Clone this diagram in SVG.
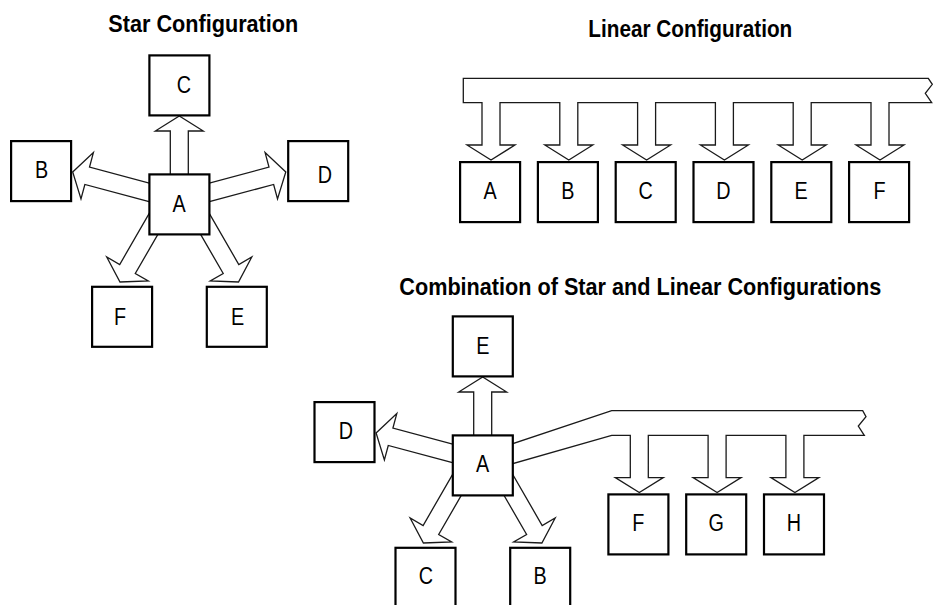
<svg xmlns="http://www.w3.org/2000/svg" width="937" height="605" viewBox="0 0 937 605">
<style>
.bg{fill:#fff}
.box{fill:#fff;stroke:#000;stroke-width:2.2}
.conn{fill:#fff;stroke:#1a1a1a;stroke-width:1.3;stroke-linejoin:miter}
.lbl{font-family:"Liberation Sans",Arial,sans-serif;font-size:23px;fill:#000;text-anchor:middle}
.ttl{font-family:"Liberation Sans",Arial,sans-serif;font-size:23.5px;font-weight:bold;fill:#000}
</style>
<rect class="bg" x="0" y="0" width="937" height="605"/>
<g id="titles">
<text class="ttl" x="108.3" y="31.7" textLength="190" lengthAdjust="spacingAndGlyphs">Star Configuration</text>
<text class="ttl" x="588.3" y="36.7" textLength="204" lengthAdjust="spacingAndGlyphs">Linear Configuration</text>
<text class="ttl" x="399.3" y="295" textLength="482" lengthAdjust="spacingAndGlyphs">Combination of Star and Linear Configurations</text>
</g>
<g id="connectors">
<!-- star -->
<polygon class="conn" points="188.3,190 188.3,131 203.3,131 179.3,116 155.3,131 170.3,131 170.3,190"/>
<polygon class="conn" points="171.62,189.09 89.52,167.09 93.40,152.60 72.7,171.9 80.98,198.96 84.86,184.47 166.96,206.47"/>
<polygon class="conn" points="186.88,189.09 268.98,167.09 265.10,152.60 285.8,171.9 277.52,198.96 273.64,184.47 191.54,206.47"/>
<polygon class="conn" points="162.21,190.9 119.71,264.51 106.72,257.01 120,282 148.28,281.01 135.29,273.51 177.79,199.9"/>
<polygon class="conn" points="196.29,190.9 238.79,264.51 251.78,257.01 238.5,282 210.22,281.01 223.21,273.51 180.71,199.9"/>
<!-- linear bus -->
<path class="conn" d="M463.3,78.3 H928.3 L932.3,84.3 L925.3,93.3 L931.7,102.7 H889 V145 H904 L880,160 L856,145 H871 V102.7 H811.2 V145 H826.2 L802.2,160 L778.2,145 H793.2 V102.7 H733.4 V145 H748.4 L724.4,160 L700.4,145 H715.4 V102.7 H655.6 V145 H670.6 L646.6,160 L622.6,145 H637.6 V102.7 H577.8 V145 H592.8 L568.8,160 L544.8,145 H559.8 V102.7 H500 V145 H515 L491,160 L467,145 H482 V102.7 H463.3 Z"/>
<!-- combination -->
<g transform="translate(303.4 261)">
<polygon class="conn" points="188.3,190 188.3,131 203.3,131 179.3,116 155.3,131 170.3,131 170.3,190"/>
<polygon class="conn" points="171.62,189.09 89.52,167.09 93.40,152.60 72.7,171.9 80.98,198.96 84.86,184.47 166.96,206.47"/>
<polygon class="conn" points="162.21,190.9 119.71,264.51 106.72,257.01 120,282 148.28,281.01 135.29,273.51 177.79,199.9"/>
<polygon class="conn" points="196.29,190.9 238.79,264.51 251.78,257.01 238.5,282 210.22,281.01 223.21,273.51 180.71,199.9"/>
</g>
<path class="conn" d="M505,446.3 L611.7,410.7 H862.7 L866,416.7 L858.3,426 L864.3,435.3 H803.9 V477.6 H818.9 L794.9,492.6 L770.9,477.6 H785.9 V435.3 H726.1 V477.6 H741.1 L717.1,492.6 L693.1,477.6 H708.1 V435.3 H648.3 V477.6 H663.3 L639.3,492.6 L615.3,477.6 H630.3 V435.3 H611.7 L505,465.9 Z"/>
</g>
<!-- star nodes -->
<g id="star-A"><rect class="box" x="149.4" y="174.4" width="60" height="60"/><text class="lbl" transform="translate(179 212) scale(0.86 1)">A</text></g>
<g id="star-C"><rect class="box" x="149.4" y="55.4" width="60" height="60"/><text class="lbl" transform="translate(184 92.7) scale(0.86 1)">C</text></g>
<g id="star-B"><rect class="box" x="11.1" y="141.1" width="60" height="60"/><text class="lbl" transform="translate(41.7 178.4) scale(0.86 1)">B</text></g>
<g id="star-D"><rect class="box" x="288.2" y="141.1" width="60" height="60"/><text class="lbl" transform="translate(325 183.3) scale(0.86 1)">D</text></g>
<g id="star-F"><rect class="box" x="92.1" y="286.8" width="60" height="60"/><text class="lbl" transform="translate(120 325) scale(0.86 1)">F</text></g>
<g id="star-E"><rect class="box" x="206.8" y="286.8" width="60" height="60"/><text class="lbl" transform="translate(237.5 325) scale(0.86 1)">E</text></g>
<!-- linear nodes -->
<g id="lin-A"><rect class="box" x="460.1" y="162.1" width="60" height="60"/><text class="lbl" transform="translate(490 199) scale(0.86 1)">A</text></g>
<g id="lin-B"><rect class="box" x="537.9" y="162.1" width="60" height="60"/><text class="lbl" transform="translate(567.8 199) scale(0.86 1)">B</text></g>
<g id="lin-C"><rect class="box" x="615.7" y="162.1" width="60" height="60"/><text class="lbl" transform="translate(645.6 199) scale(0.86 1)">C</text></g>
<g id="lin-D"><rect class="box" x="693.5" y="162.1" width="60" height="60"/><text class="lbl" transform="translate(723.4 199) scale(0.86 1)">D</text></g>
<g id="lin-E"><rect class="box" x="771.3" y="162.1" width="60" height="60"/><text class="lbl" transform="translate(801.2 199) scale(0.86 1)">E</text></g>
<g id="lin-F"><rect class="box" x="849.1" y="162.1" width="60" height="60"/><text class="lbl" transform="translate(879.5 199) scale(0.86 1)">F</text></g>
<!-- combination nodes -->
<g id="comb-A"><rect class="box" x="452.8" y="435.4" width="60" height="60"/><text class="lbl" transform="translate(482.7 472.3) scale(0.86 1)">A</text></g>
<g id="comb-E"><rect class="box" x="452.8" y="316.4" width="60" height="60"/><text class="lbl" transform="translate(482.8 354) scale(0.86 1)">E</text></g>
<g id="comb-D"><rect class="box" x="314.5" y="402.1" width="60" height="60"/><text class="lbl" transform="translate(345.8 439.3) scale(0.86 1)">D</text></g>
<g id="comb-C"><rect class="box" x="395.5" y="547.8" width="60" height="60"/><text class="lbl" transform="translate(425.8 584) scale(0.86 1)">C</text></g>
<g id="comb-B"><rect class="box" x="510.2" y="547.8" width="60" height="60"/><text class="lbl" transform="translate(540 584) scale(0.86 1)">B</text></g>
<g id="comb-F"><rect class="box" x="608.4" y="494.4" width="60" height="60"/><text class="lbl" transform="translate(638.4 531.3) scale(0.86 1)">F</text></g>
<g id="comb-G"><rect class="box" x="686.2" y="494.4" width="60" height="60"/><text class="lbl" transform="translate(716.2 531.3) scale(0.86 1)">G</text></g>
<g id="comb-H"><rect class="box" x="764" y="494.4" width="60" height="60"/><text class="lbl" transform="translate(794 531.3) scale(0.86 1)">H</text></g>
</svg>
